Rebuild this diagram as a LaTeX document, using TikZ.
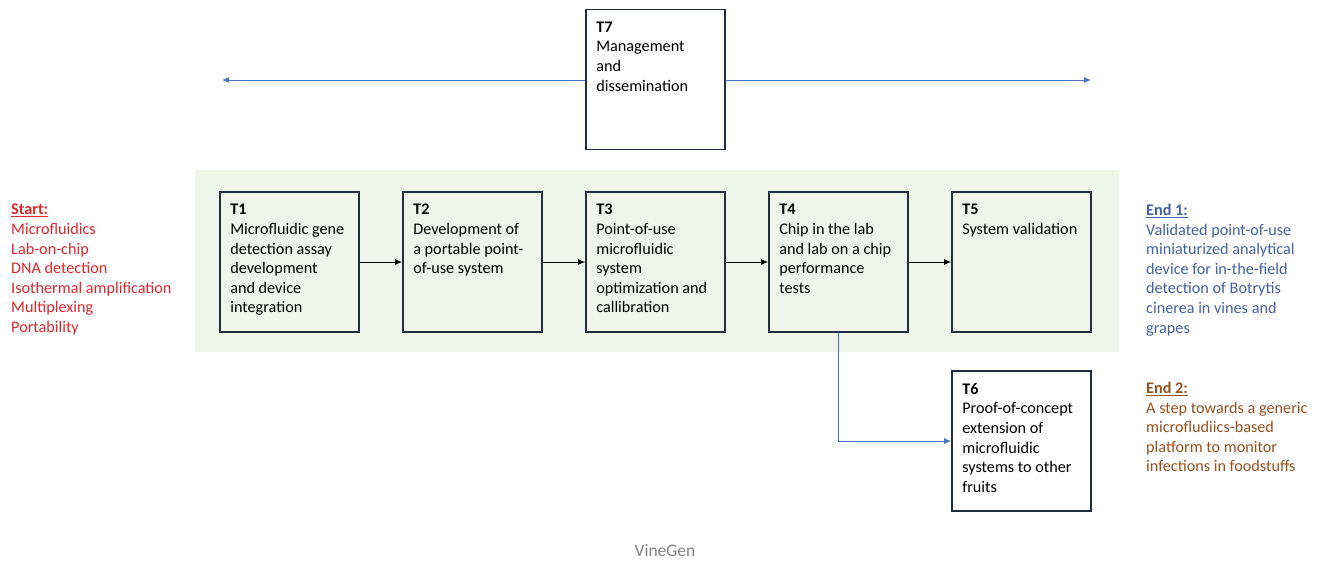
\documentclass[tikz,border=0pt]{standalone}
\usepackage{fontspec}
\setmainfont{Carlito}
\usetikzlibrary{arrows.meta,positioning}
\definecolor{boxline}{RGB}{31,45,61}
\definecolor{bandgreen}{RGB}{238,244,234}
\definecolor{linkblue}{RGB}{68,114,196}
\definecolor{startred}{RGB}{222,38,44}
\definecolor{endblue}{RGB}{68,98,158}
\definecolor{endbrown}{RGB}{150,80,30}
\definecolor{footgrey}{RGB}{130,130,130}

\begin{document}
\begin{tikzpicture}[x=1pt,y=-1pt,
    task/.style={draw=boxline,line width=1.8pt,minimum width=139pt,minimum height=140pt,inner sep=0pt},
    tasktext/.style={anchor=north west,inner sep=0pt,align=left,font=\fontsize{16.2}{19.6}\selectfont},
    flow/.style={-{Latex[length=7pt,width=6pt]},line width=0.8pt},
    blueflow/.style={flow,draw=linkblue,line width=1pt}]
    \useasboundingbox (0,0) rectangle (1319,562);
    \fill[bandgreen] (195,170) rectangle (1119,352);
    % task boxes
    \node[task] (t7) at (655.5,79.5) {};
    \node[task] (t1) at (289.5,262) {};
    \node[task] (t2) at (472.5,262) {};
    \node[task] (t3) at (655.5,262) {};
    \node[task] (t4) at (838.5,262) {};
    \node[task] (t5) at (1021.5,262) {};
    \node[task] (t6) at (1021.5,441) {};
    \node[tasktext] (t7txt) at ([shift={(11,13)}]t7.north west) {\textbf{T7}\\Management\\and\\dissemination};
    \node[tasktext] (t1txt) at ([shift={(11,13)}]t1.north west) {\textbf{T1}\\Microfluidic gene\\detection assay\\development\\and device\\integration};
    \node[tasktext] (t2txt) at ([shift={(11,13)}]t2.north west) {\textbf{T2}\\Development of\\a portable point-\\of-use system};
    \node[tasktext] (t3txt) at ([shift={(11,13)}]t3.north west) {\textbf{T3}\\Point-of-use\\microfluidic\\system\\optimization and\\callibration};
    \node[tasktext] (t4txt) at ([shift={(11,13)}]t4.north west) {\textbf{T4}\\Chip in the lab\\and lab on a chip\\performance\\tests};
    \node[tasktext] (t5txt) at ([shift={(11,13)}]t5.north west) {\textbf{T5}\\System validation};
    \node[tasktext] (t6txt) at ([shift={(11,13)}]t6.north west) {\textbf{T6}\\Proof-of-concept\\extension of\\microfluidic\\systems to other\\fruits};
    % start and ends
    \node[tasktext,text=startred] (start) at (11,204) {\underline{\textbf{Start:}}\\Microfluidics\\Lab-on-chip\\DNA detection\\Isothermal amplification\\Multiplexing\\Portability};
    \node[tasktext,text=endblue] (end1) at (1146,204) {\underline{\textbf{End 1:}}\\Validated point-of-use\\miniaturized analytical\\device for in-the-field\\detection of Botrytis\\cinerea in vines and\\grapes};
    \node[tasktext,text=endbrown] (end2) at (1146,382) {\underline{\textbf{End 2:}}\\A step towards a generic\\microfludiics-based\\platform to monitor\\infections in foodstuffs};
    \node[font=\fontsize{17.5}{20}\selectfont,text=footgrey] (foot) at (665,551) {VineGen};
    % connectors
    \coordinate (lefttip) at (222,80);
    \coordinate (righttip) at (1091,80);
    \draw[blueflow] (t7.west |- lefttip) -- (lefttip);
    \draw[blueflow] (t7.east |- righttip) -- (righttip);
    \draw[flow] (t1.east) -- (t2.west);
    \draw[flow] (t2.east) -- (t3.west);
    \draw[flow] (t3.east) -- (t4.west);
    \draw[flow] (t4.east) -- (t5.west);
    \draw[blueflow] (t4.south) |- (t6.west);
\end{tikzpicture}
\end{document}
